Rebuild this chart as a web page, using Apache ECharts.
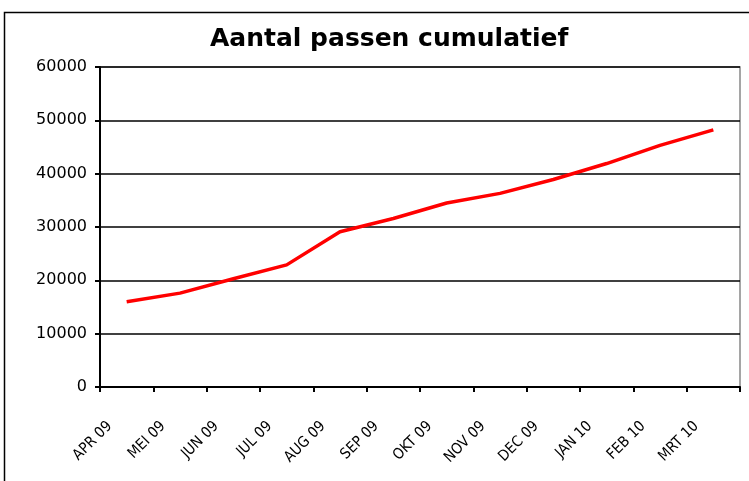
<!DOCTYPE html>
<html lang="nl">
<head>
    <meta charset="UTF-8">
    <title>Aantal passen cumulatief</title>
    <script src="https://cdn.jsdelivr.net/npm/echarts@6/dist/echarts.min.js"></script>
    <style>
        html, body { margin: 0; padding: 0; background: #fff; }
        #chart { width: 749px; height: 481px; }
    </style>
</head>
<body>
    <div id="chart"></div>
    <script>
        // maanden (x-as)
        var months = ['APR 09', 'MEI 09', 'JUN 09', 'JUL 09', 'AUG 09', 'SEP 09',
                      'OKT 09', 'NOV 09', 'DEC 09', 'JAN 10', 'FEB 10', 'MRT 10'];
        var passen = [16000, 17600, 20300, 22900, 29100, 31600,
                      34500, 36300, 38900, 41900, 45300, 48200];
        var yTicks = [0, 10000, 20000, 30000, 40000, 50000, 60000];

        var myChart = echarts.init(document.getElementById('chart'));
        var option = {
            animation: false,
            backgroundColor: '#fff',
            title: {
                text: 'Aantal passen cumulatief',
                left: 205,
                top: 22,
                textStyle: { fontFamily: 'DejaVu Sans', fontWeight: 'bold', fontSize: 25, color: '#000' }
            },
            graphic: [{
                type: 'rect',
                shape: { x: 4.5, y: 12.5, width: 800, height: 520 },
                style: { fill: 'none', stroke: '#000', lineWidth: 1.5 },
                silent: true
            }],
            grid: {
                left: 100, right: 9, top: 67, bottom: 94,
                show: true, borderColor: '#888', borderWidth: 1.5
            },
            xAxis: {
                type: 'category',
                data: months,
                boundaryGap: true,
                axisLine: { lineStyle: { color: '#000', width: 2 } },
                axisTick: { show: true, length: 5, lineStyle: { color: '#000', width: 2 } },
                axisLabel: {
                    rotate: 45, fontSize: 15, color: '#000', margin: 20,
                    fontFamily: 'DejaVu Sans Condensed',
                    padding: [0, 24, 0, 0]
                }
            },
            yAxis: {
                type: 'value',
                min: yTicks[0],
                max: yTicks[yTicks.length - 1],
                interval: yTicks[1] - yTicks[0],
                axisLine: { show: true, lineStyle: { color: '#000', width: 2 } },
                axisTick: { show: true, length: 5, lineStyle: { color: '#000', width: 2 } },
                axisLabel: {
                    fontSize: 16, color: '#000', margin: 13, fontFamily: 'DejaVu Sans',
                    formatter: function (v) { return String(v); }
                },
                splitLine: { lineStyle: { color: '#000', width: 1.5 } }
            },
            series: [{
                type: 'line',
                data: passen,
                showSymbol: false,
                symbol: 'none',
                lineStyle: { color: '#ff0000', width: 3.5 }
            }]
        };
        myChart.setOption(option);
    </script>
</body>
</html>
